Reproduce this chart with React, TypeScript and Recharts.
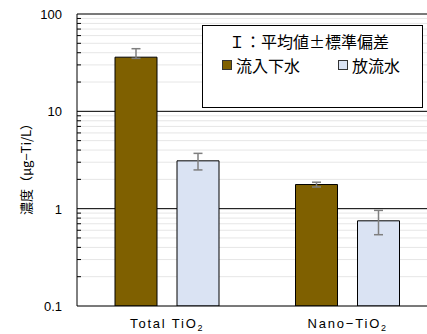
import React from 'react'
import { BarChart, Bar, XAxis, YAxis, ErrorBar, ReferenceLine, Legend, Label, CartesianGrid } from 'recharts'

const CATEGORIES = ['Total TiO2', 'Nano−TiO2']
const SERIES_NAMES = ['流入下水', '放流水']
const INFLOW = [36, 1.77]
const INFLOW_ERR = [[1, 8], [0.1, 0.1]]
const EFFLUENT = [3.1, 0.75]
const EFFLUENT_ERR = [[0.6, 0.6], [0.21, 0.21]]
const Y_TICKS = [0.1, 1, 10, 100]
const MAJOR_GRID = [1, 10, 100]
const DECADES = [0.1, 1, 10]
const MINOR_STEPS = [2, 3, 4, 5, 6, 7, 8, 9]
const MINOR_GRID = DECADES.flatMap((d) => MINOR_STEPS.map((s) => +(d * s).toPrecision(3)))
const ALL_TICKS = [...Y_TICKS, ...MINOR_GRID].sort((a, b) => a - b)

const COLORS = ['#7F6000', '#DAE3F3']
const FONT = '"Liberation Sans", "Noto Sans CJK JP", sans-serif'
const JP_FONT = '"Noto Sans CJK JP", sans-serif'

const data = CATEGORIES.map((name, i) => ({
  name,
  inflow: INFLOW[i],
  inflowErr: INFLOW_ERR[i],
  effluent: EFFLUENT[i],
  effluentErr: EFFLUENT_ERR[i],
}))

// labels only on decades, short inside ticks on the minor values
const YTick = ({ x, y, payload }: any) => {
  if (Y_TICKS.includes(payload.value)) {
    return (
      <text x={x} y={y + 5} textAnchor="end" fontSize={13} fontFamily={FONT} fill="#000">
        {payload.value}
      </text>
    )
  }
  return <line x1={x + 15} y1={y} x2={x + 19} y2={y} stroke="#000" strokeWidth={1} />
}

const XTick = ({ x, y, payload }: any) => {
  const label: string = payload.value
  return (
    <text x={x} y={y + 14} textAnchor="middle" fontSize={13} fontFamily={FONT} fill="#000" letterSpacing={1.8}>
      {label.slice(0, -1)}
      <tspan fontSize={9} dy={3}>{label.slice(-1)}</tspan>
    </text>
  )
}

const LegendBox = ({ payload }: any) => {
  const items = [...(payload || [])].sort(
    (a: any, b: any) => SERIES_NAMES.indexOf(a.value) - SERIES_NAMES.indexOf(b.value)
  )
  return (
    <div
      style={{
        width: 221,
        height: 83,
        boxSizing: 'border-box',
        border: '1px solid #000',
        background: '#fff',
        fontFamily: JP_FONT,
        fontSize: 16,
        color: '#000',
        lineHeight: '20px',
      }}
    >
      <div style={{ marginTop: 5, paddingLeft: 26 }}>Ｉ：平均値±標準偏差</div>
      <div style={{ display: 'flex', marginTop: 4, paddingLeft: 19 }}>
        {items.map((p: any, i: number) => (
          <div key={i} style={{ display: 'flex', alignItems: 'center', width: i === 0 ? 116 : 'auto' }}>
            <span
              style={{
                display: 'inline-block',
                width: 8,
                height: 8,
                background: p.color,
                border: '1px solid #333',
                marginRight: 4,
              }}
            />
            {p.value}
          </div>
        ))}
      </div>
    </div>
  )
}

export default function App() {
  return (
    <div style={{ position: 'fixed', left: 0, top: 0, width: 427, height: 334, overflow: 'hidden', background: '#fff' }}>
      <BarChart width={445} height={334} data={data} margin={{ top: 14, right: 7, left: 0, bottom: 0 }} barCategoryGap={38} barGap={20}>
        <CartesianGrid vertical={false} stroke="#e6e6e6" strokeWidth={1} />
        <XAxis dataKey="name" height={28} axisLine={{ stroke: '#000' }} tickLine={false} tick={<XTick />} interval={0} />
        <YAxis
          scale="log"
          domain={[0.1, 100]}
          ticks={ALL_TICKS}
          interval={0}
          allowDataOverflow
          width={77}
          axisLine={{ stroke: '#000' }}
          tickLine={false}
          tickSize={13}
          tickMargin={2}
          tick={<YTick />}
        >
          <Label
            content={() => (
              <text
                x={25}
                y={166}
                transform="rotate(-90, 25, 166)"
                textAnchor="middle"
                dominantBaseline="central"
                fontSize={13}
                fontFamily={JP_FONT}
                fill="#000"
              >
                濃度（μg−Ti/L）
              </text>
            )}
          />
        </YAxis>
        {MAJOR_GRID.map((v) => (
          <ReferenceLine key={'M' + v} y={v} stroke="#000" strokeWidth={1} zIndex={-80} />
        ))}
        <Legend
          verticalAlign="middle"
          align="center"
          itemSorter={null}
          content={<LegendBox />}
          wrapperStyle={{ position: 'absolute', left: 202, top: 25, width: 221, height: 83 }}
        />
        <Bar dataKey="inflow" name={SERIES_NAMES[0]} fill={COLORS[0]} stroke="#000" strokeWidth={1} isAnimationActive={false}>
          <ErrorBar dataKey="inflowErr" width={4.5} stroke="#7f7f7f" strokeWidth={1.5} />
        </Bar>
        <Bar dataKey="effluent" name={SERIES_NAMES[1]} fill={COLORS[1]} stroke="#000" strokeWidth={1} isAnimationActive={false}>
          <ErrorBar dataKey="effluentErr" width={4.5} stroke="#7f7f7f" strokeWidth={1.5} />
        </Bar>
      </BarChart>
    </div>
  )
}
